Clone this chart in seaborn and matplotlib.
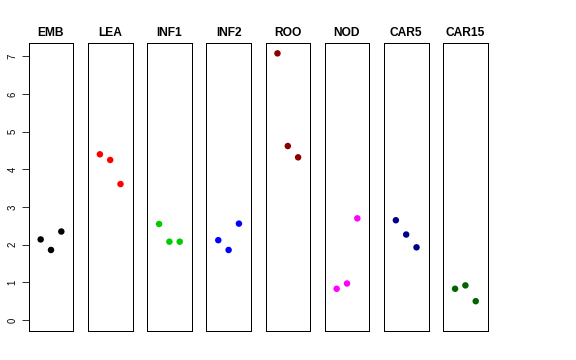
import matplotlib
matplotlib.use("Agg")
import matplotlib.pyplot as plt
import seaborn as sns
import pandas as pd

tissues = ["EMB", "LEA", "INF1", "INF2", "ROO", "NOD", "CAR5", "CAR15"]
colors = ["#000000", "#FF0000", "#00CD00", "#0000FF", "#8B0000", "#FF00FF", "#00008B", "#006400"]
emb = [2.14, 1.86, 2.35]
lea = [4.40, 4.25, 3.61]
inf1 = [2.55, 2.08, 2.08]
inf2 = [2.12, 1.86, 2.56]
roo = [7.08, 4.62, 4.32]
nod = [0.83, 0.97, 2.70]
car5 = [2.65, 2.27, 1.93]
car15 = [0.83, 0.92, 0.50]
replicates = [1, 2, 3]
yticks = [0, 1, 2, 3, 4, 5, 6, 7]

series = [emb, lea, inf1, inf2, roo, nod, car5, car15]

sns.set_theme(style="white")
plt.rcParams["font.family"] = ["Liberation Sans", "DejaVu Sans"]
plt.rcParams["text.color"] = "black"
plt.rcParams["ytick.color"] = "black"

W, H = 576, 360
fig = plt.figure(figsize=(W / 72, H / 72), dpi=72)

ymax = max(max(s) for s in series)
yr = ymax * 0.04

for i, (name, col, vals) in enumerate(zip(tissues, colors, series)):
    left = 28.7 + i * 59.2
    ax = fig.add_axes([left / W, 1 - 330.7 / H, 44.6 / W, 288.0 / H])
    df = pd.DataFrame({"rep": replicates, "val": vals})
    sns.scatterplot(data=df, x="rep", y="val", ax=ax, color=col, s=42,
                    edgecolor="none", linewidth=0)
    ax.set_xlim(-0.16, 4.16)
    ax.set_ylim(-yr, ymax + yr)
    ax.set_xlabel("")
    ax.set_ylabel("")
    ax.set_xticks([])
    for sp in ax.spines.values():
        sp.set_color("black")
        sp.set_linewidth(1.0)
        sp.set_visible(True)
    ax.set_title(name, fontsize=12, fontweight="bold", pad=7, color="black")
    if i == 0:
        ax.set_yticks(yticks)
        ax.set_yticklabels([str(t) for t in yticks], rotation=90, va="center", fontsize=9.5)
        ax.tick_params(axis="y", left=True, length=7, width=0.8, color="black",
                       labelcolor="black", pad=4)
    else:
        ax.set_yticks([])

fig.savefig("out.png", dpi=72)
